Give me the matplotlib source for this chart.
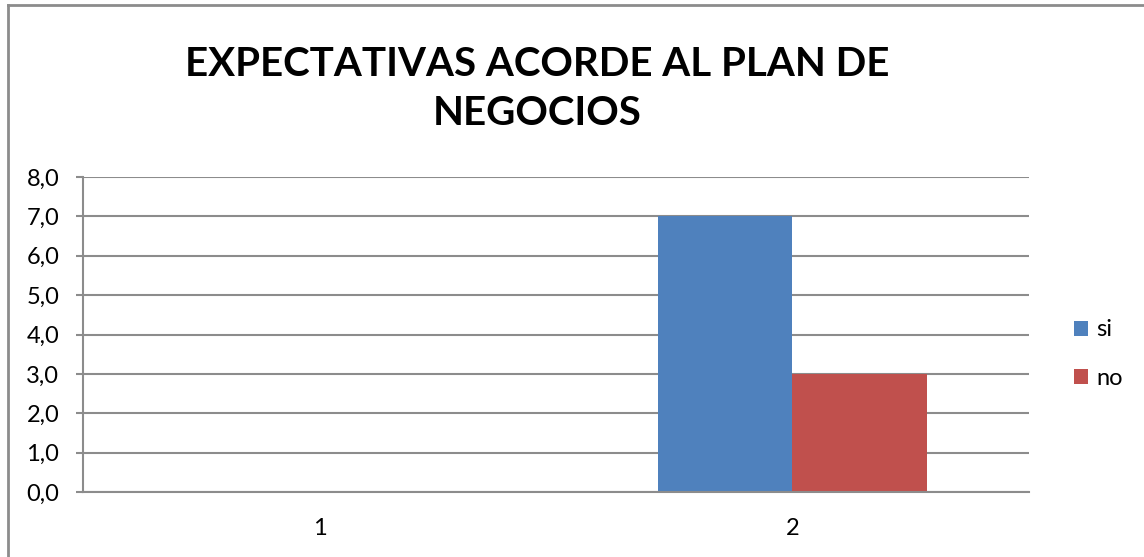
import matplotlib
matplotlib.use("Agg")
import matplotlib.pyplot as plt
from matplotlib.lines import Line2D
from matplotlib.ticker import FuncFormatter
import numpy as np

categories = ["1", "2"]
series_names = ["si", "no"]
si_values = [0, 7]
no_values = [0, 3]
y_ticks = [0, 1, 2, 3, 4, 5, 6, 7, 8]
title = "EXPECTATIVAS ACORDE AL PLAN DE\nNEGOCIOS"

W, H = 1144, 557
fig = plt.figure(figsize=(W / 100, H / 100), dpi=100)
plt.rcParams["font.family"] = ["Lato", "DejaVu Sans"]

# outer chart frame (left and top edges visible)
grey = "#8c8c8c"
fig.add_artist(Line2D([8 / W, 8 / W], [0, 1 - 5 / H], transform=fig.transFigure,
                      color=grey, lw=2))
fig.add_artist(Line2D([8 / W, 1], [1 - 5 / H, 1 - 5 / H], transform=fig.transFigure,
                      color=grey, lw=2))

left, right, top, bottom = 83, 1029, 177, 492
ax = fig.add_axes([left / W, 1 - bottom / H, (right - left) / W, (bottom - top) / H])

x = np.arange(len(categories))
bw = 0.285
ax.bar(x - bw / 2, si_values, bw, color="#4F81BD", label=series_names[0], zorder=3)
ax.bar(x + bw / 2, no_values, bw, color="#C0504D", label=series_names[1], zorder=3)

ax.set_xlim(-0.5, len(categories) - 0.5)
ax.set_ylim(0, 8)
ax.set_yticks(y_ticks)
ax.yaxis.set_major_formatter(FuncFormatter(lambda v, p: f"{v:.1f}".replace(".", ",")))
ax.set_xticks(x)
ax.set_xticklabels(categories)

ax.grid(axis="y", color=grey, lw=1.5, zorder=0)
for s in ["top", "right"]:
    ax.spines[s].set_visible(False)
for s in ["left", "bottom"]:
    ax.spines[s].set_color(grey)
    ax.spines[s].set_linewidth(1.5)
    ax.spines[s].set_zorder(4)
ax.tick_params(axis="y", length=5, width=1.5, color=grey, labelsize=17, pad=12)
ax.tick_params(axis="x", length=0, labelsize=17, pad=19)

fig.text(537 / W, 1 - 89 / H, title, ha="center", va="center", fontsize=29,
         fontweight="bold", linespacing=1.38)

ax.legend(loc="center left", bbox_to_anchor=(1074 / W, 1 - 354 / H),
          bbox_transform=fig.transFigure, frameon=False, fontsize=17,
          handlelength=0.6, handleheight=0.6, handletextpad=0.35,
          labelspacing=1.15, borderaxespad=0, borderpad=0)

fig.savefig("out.png", dpi=100)
